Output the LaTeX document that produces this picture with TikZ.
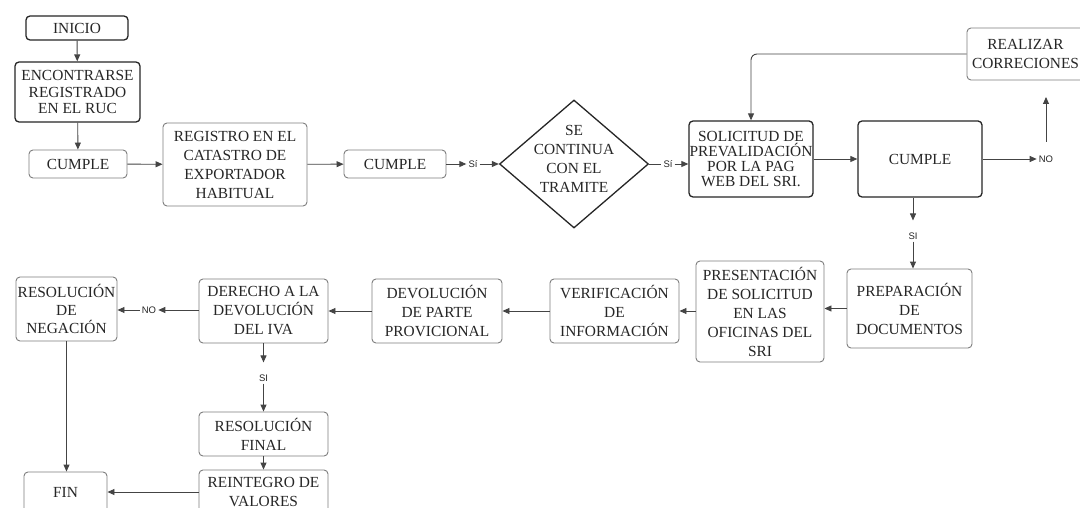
\documentclass[tikz,border=0pt]{standalone}
\usepackage{fontspec}
\setmainfont{Liberation Serif}
\newfontfamily\lblfont{Liberation Sans}
\usetikzlibrary{arrows.meta,shapes.geometric}
\definecolor{lineC}{HTML}{444444}
\definecolor{boxC}{HTML}{7E7E7E}
\definecolor{txtC}{HTML}{262626}
\tikzset{
 box/.style={draw=boxC, line width=0.9pt, rounded corners=4pt, inner sep=0pt, align=center, text=txtC, font=\fontsize{15.4}{19}\selectfont},
 darkbox/.style={box, draw=black!85, line width=1.3pt},
 lbl/.style={font=\lblfont\fontsize{9.5}{10}\selectfont, text=txtC, inner sep=2pt},
 conn/.style={draw=lineC, line width=0.9pt, -{Triangle[length=7pt,width=6pt]}},
 plainline/.style={draw=lineC, line width=0.9pt},
}
\begin{document}
\begin{tikzpicture}[x=1pt,y=-1pt]
\useasboundingbox (0,0) rectangle (1080,508);
\clip (0,0) rectangle (1080,508);
\fill[white] (0,0) rectangle (1080,508);

% top row
\node[darkbox, minimum width=102pt, minimum height=24pt] (ini) at (77,28) {INICIO};
\node[darkbox, minimum width=125pt, minimum height=60pt, font=\fontsize{15.4}{16.5}\selectfont] (enc) at (77.5,92) {ENCONTRARSE\\REGISTRADO\\EN EL RUC};
\node[box, minimum width=98pt, minimum height=28pt] (c1) at (78,164) {CUMPLE};
\node[box, minimum width=144pt, minimum height=83pt] (reg) at (235,164.5) {REGISTRO EN EL\\CATASTRO DE\\EXPORTADOR\\HABITUAL};
\node[box, minimum width=102pt, minimum height=28pt] (c2) at (395,164) {CUMPLE};
\node[lbl] (s1) at (473,164) {Sí};
\node[draw=black!85, line width=1.3pt, diamond, minimum width=149pt, minimum height=128pt, inner sep=0pt] (dia) at (574,164) {};
\node[align=center, text=txtC, inner sep=0pt, font=\fontsize{15.4}{19}\selectfont] (diat) at (574,158.5) {SE\\CONTINUA\\CON EL\\TRAMITE};
\node[lbl] (s2) at (668,164) {Sí};
\node[darkbox, minimum width=124pt, minimum height=76pt, font=\fontsize{15.4}{15}\selectfont] (sol) at (751,159) {SOLICITUD DE\\PREVALIDACIÓN\\POR LA PAG\\WEB DEL SRI.};
\node[darkbox, minimum width=124pt, minimum height=76pt] (c3) at (920,159) {CUMPLE};
\node[lbl] (no1) at (1046,159) {NO};
\coordinate (upS) at (1046,142);
\coordinate (upE) at (1046,97);
\node[box, minimum width=117pt, minimum height=52pt] (corr) at (1025.5,54) {REALIZAR\\CORRECIONES};

% middle row
\node[lbl] (si1) at (913,236) {SI};
\node[box, minimum width=125pt, minimum height=79pt] (prep) at (909.5,308.5) {PREPARACIÓN\\DE\\DOCUMENTOS};
\node[box, minimum width=128pt, minimum height=101pt] (pres) at (760,311.5) {PRESENTACIÓN\\DE SOLICITUD\\EN LAS\\OFICINAS DEL\\SRI};
\node[box, minimum width=129pt, minimum height=64pt] (ver) at (614.5,311) {VERIFICACIÓN\\DE\\INFORMACIÓN};
\node[box, minimum width=130pt, minimum height=64pt] (dev) at (437,311) {DEVOLUCIÓN\\DE PARTE\\PROVICIONAL};
\node[box, minimum width=129pt, minimum height=64pt] (der) at (263.5,311) {DERECHO A LA\\DEVOLUCIÓN\\DEL IVA};
\node[lbl] (no2) at (149,310) {NO};
\node[box, minimum width=101pt, minimum height=64pt, font=\fontsize{15.4}{18.3}\selectfont] (neg) at (66.5,309) {RESOLUCIÓN\\DE\\NEGACIÓN};

% bottom
\node[lbl] (si2) at (263.5,378) {SI};
\node[box, minimum width=129pt, minimum height=44pt] (fin2) at (263.5,434) {RESOLUCIÓN\\FINAL};
\node[box, minimum width=129pt, minimum height=44pt] (rein) at (263.5,492) {REINTEGRO DE\\VALORES};
\node[box, minimum width=83pt, minimum height=40pt] (fin) at (65.5,492) {FIN};

% connectors
\draw[conn] (ini) -- (enc);
\draw[conn] (enc) -- (c1);
\draw[conn] (c1) -- (reg);
\draw[conn] (reg) -- (c2);
\draw[conn] (c2) -- (s1);
\draw[conn] (s1) -- (dia);
\draw[plainline] (dia.east) -- (s2.west);
\draw[conn] (s2) -- (sol.west |- s2);
\draw[conn] (sol) -- (c3);
\draw[conn] (c3) -- (no1);
\draw[conn] (upS) -- (upE);
\draw[conn, rounded corners=6pt] (corr.west) -| (sol.north);
\draw[conn, shorten >=10pt] (c3.south -| si1) -- (si1.north);
\draw[conn] (si1.south) -- (prep.north -| si1);
\draw[conn] (prep) -- (pres.east |- prep);
\draw[conn] (pres.west |- ver) -- (ver);
\draw[conn] (ver) -- (dev);
\draw[conn] (dev) -- (der);
\draw[conn] (der.west |- no2) -- (no2);
\draw[conn] (no2) -- (neg.east |- no2);
\draw[conn, shorten >=10pt] (der.south) -- (si2.north);
\draw[conn] (si2.south) -- (fin2.north);
\draw[conn] (fin2) -- (rein);
\draw[conn] (rein) -- (fin);
\draw[conn] (neg.south) -- (fin.north -| neg.south);
\end{tikzpicture}
\end{document}
